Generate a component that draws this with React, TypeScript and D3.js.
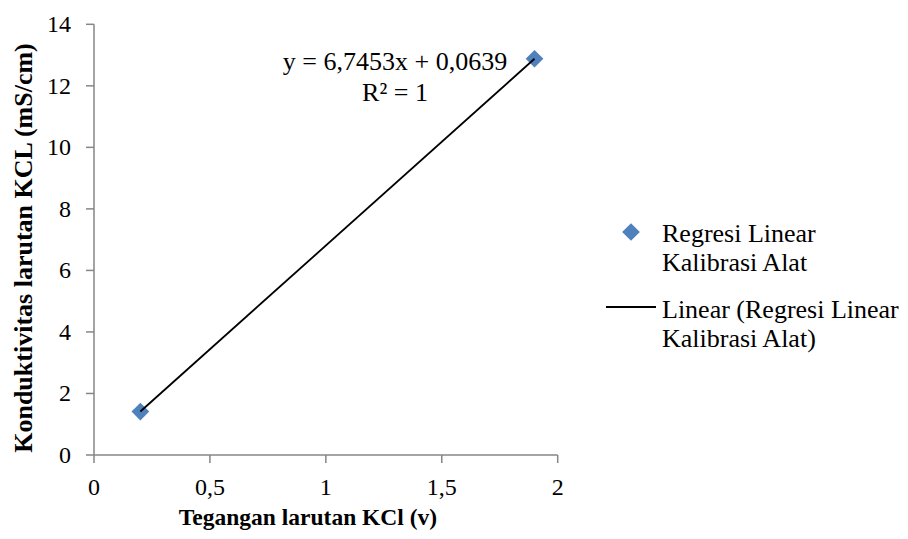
import React from "react";
import * as d3 from "d3";

const xValues = [0.2, 1.9];
const yValues = [1.413, 12.88];
const xTicks = [0, 0.5, 1, 1.5, 2];
const yTicks = [0, 2, 4, 6, 8, 10, 12, 14];
const slope = 6.7453;
const intercept = 0.0639;
const equationText = "y = 6,7453x + 0,0639";
const r2Text = "R² = 1";
const xTitle = "Tegangan larutan KCl (v)";
const yTitle = "Konduktivitas larutan KCL (mS/cm)";
const legendSeries = ["Regresi Linear", "Kalibrasi Alat"];
const legendTrend = ["Linear (Regresi Linear", "Kalibrasi Alat)"];

const fmt = (v: number) => String(v).replace(".", ",");

export default function App() {
  const W = 908, H = 539;
  const x = d3.scaleLinear().domain([0, 2]).range([94, 557.7]);
  const y = d3.scaleLinear().domain([0, 14]).range([455, 24.3]);
  const axisColor = "#868686";
  const ff = { fontFamily: "Liberation Serif" };
  const diamond = d3.symbol().type(d3.symbolDiamond2).size(200)() as string;
  const x0 = d3.min(xValues)!, x1 = d3.max(xValues)!;
  const trend = d3.line<number>().x((d) => x(d)).y((d) => y(slope * d + intercept))([x0, x1]) as string;

  return (
    <svg width={W} height={H} style={{ position: "absolute", left: 0, top: 0 }}>
      <rect width={W} height={H} fill="#fff" />
      {/* axes */}
      <line x1={x(0)} x2={x(0)} y1={y(14)} y2={y(0)} stroke={axisColor} strokeWidth={1.5} />
      <line x1={x(0)} x2={x(2)} y1={y(0)} y2={y(0)} stroke={axisColor} strokeWidth={1.5} />
      {yTicks.map((t) => (
        <g key={"y" + t}>
          <line x1={x(0) - 8} x2={x(0)} y1={y(t)} y2={y(t)} stroke={axisColor} strokeWidth={1.5} />
          <text x={71} y={y(t) + 8} textAnchor="end" fontSize={24} fill="#000" style={ff}>{fmt(t)}</text>
        </g>
      ))}
      {xTicks.map((t) => (
        <g key={"x" + t}>
          <line x1={x(t)} x2={x(t)} y1={y(0)} y2={y(0) + 8} stroke={axisColor} strokeWidth={1.5} />
          <text x={x(t)} y={495} textAnchor="middle" fontSize={24} fill="#000" style={ff}>{fmt(t)}</text>
        </g>
      ))}
      {/* titles */}
      <text x={308} y={525} textAnchor="middle" fontSize={23.5} fontWeight="bold" style={ff}>{xTitle}</text>
      <text transform={`translate(32,248) rotate(-90)`} textAnchor="middle" fontSize={26} fontWeight="bold" style={ff}>{yTitle}</text>
      {/* points */}
      {xValues.map((v, i) => (
        <path key={"p" + i} d={diamond} transform={`translate(${x(v)},${y(yValues[i])})`} fill="#4F81BD" />
      ))}
      {/* trendline */}
      <path d={trend} stroke="#000" strokeWidth={1.8} fill="none" />
      {/* equation */}
      <text x={395} y={70} textAnchor="middle" fontSize={26} style={ff}>{equationText}</text>
      <text x={395} y={101} textAnchor="middle" fontSize={26} style={ff}>{r2Text}</text>
      {/* legend */}
      <path d={diamond} transform="translate(631,232)" fill="#4F81BD" />
      {legendSeries.map((s, i) => (
        <text key={"ls" + i} x={662} y={242 + i * 29} fontSize={26} style={ff}>{s}</text>
      ))}
      <line x1={606} x2={656} y1={307} y2={307} stroke="#000" strokeWidth={1.8} />
      {legendTrend.map((s, i) => (
        <text key={"lt" + i} x={662} y={318 + i * 29} fontSize={26} style={ff}>{s}</text>
      ))}
    </svg>
  );
}
